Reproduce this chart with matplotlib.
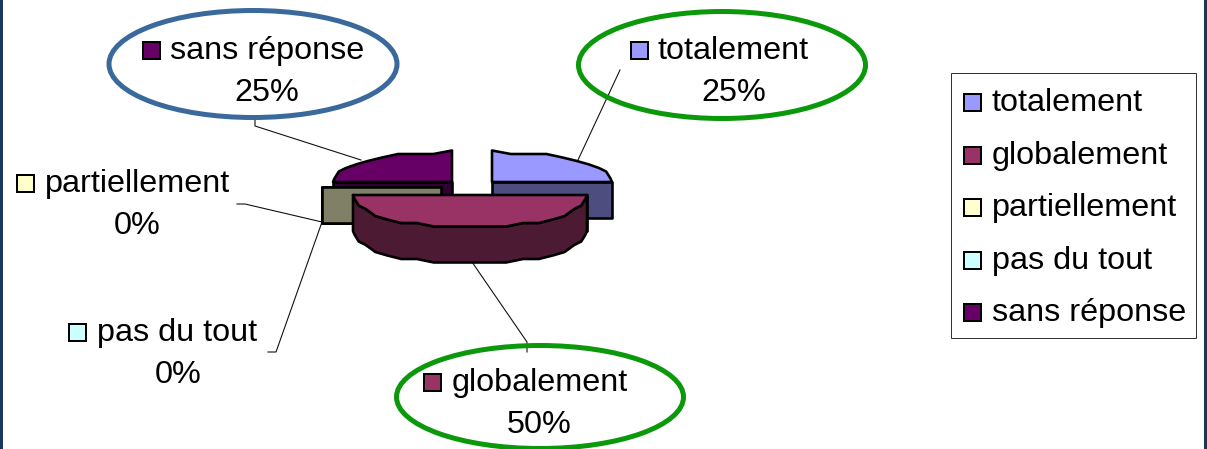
import numpy as np
import matplotlib
matplotlib.use("Agg")
import matplotlib.pyplot as plt
from matplotlib.patches import Polygon, Ellipse, Rectangle
from matplotlib.colors import to_rgb

categories = ["totalement", "globalement", "partiellement", "pas du tout", "sans réponse"]
values = [25, 50, 0, 0, 25]
colors = ["#9999FF", "#993366", "#FFFFCC", "#CCFFFF", "#660066"]

plt.rcParams["font.family"] = ["Liberation Sans", "DejaVu Sans"]
W, H = 1207, 449
fig = plt.figure(figsize=(W / 100, H / 100), dpi=100)
ax = fig.add_axes([0, 0, 1, 1])
ax.set_xlim(0, W)
ax.set_ylim(H, 0)
ax.axis("off")
PX = 0.72
FS = 23.3

# Exploded slice centres and radii, per category
geom = {
    "totalement": (492, 182, 120, 30),
    "globalement": (470, 195, 117, 33),
    "partiellement": (441, 187, 119, 30),
    "pas du tout": (441, 187, 119, 30),
    "sans réponse": (452, 182, 119, 30),
}
DEPTH = 36
total = sum(values)
fr = np.cumsum([0] + values) / total * 360
starts = dict(zip(categories, fr[:-1]))
ends = dict(zip(categories, fr[1:]))


def pt(cx, cy, rx, ry, deg, grid=0):
    t = np.radians(deg)
    x, y = cx + rx * np.sin(t), cy - ry * np.cos(t)
    if grid:
        # the source's coarse metafile outline: rim snapped to a rough grid
        y = cy + round((y - cy) / grid) * grid
    return (x, y)


def draw_slice(cat, col, z):
    cx, cy, rx, ry = geom[cat]
    a, b = starts[cat], ends[cat]
    side = tuple(c * 0.5 for c in to_rgb(col))
    kw = dict(edgecolor="black", linewidth=2.6 * PX, joinstyle="round", zorder=z)
    for ang in (a, b):
        if abs(ang % 180 - 90) < 1e-6:
            p = pt(cx, cy, rx, ry, ang)
            ax.add_patch(Polygon([(cx, cy), p, (p[0], p[1] + DEPTH), (cx, cy + DEPTH)],
                                 facecolor=side, **kw))
    if b == a:
        return
    n = max(2, int((b - a) / 9) + 1)
    angs = np.linspace(a, b, n)
    arc = [pt(cx, cy, rx, ry, d, grid=3.5) for d in angs]
    front = [d for d in angs if np.cos(np.radians(d)) <= 1e-9]
    if len(front) > 1:
        up = [pt(cx, cy, rx, ry, d, grid=3.5) for d in front]
        low = [(x, y + DEPTH) for x, y in up]
        ax.add_patch(Polygon(up + low[::-1], facecolor=side, **kw))
    ax.add_patch(Polygon([(cx, cy)] + arc, facecolor=col, **kw))


for cat, z in [("sans réponse", 3), ("pas du tout", 4), ("partiellement", 5),
               ("totalement", 6), ("globalement", 7)]:
    draw_slice(cat, colors[categories.index(cat)], z)

# Leader lines
leaders = [
    [(255, 120), (255, 126), (361, 160)],
    [(620, 70), (578, 160)],
    [(527, 352), (527, 342), (472, 262)],
    [(237, 204), (245, 204), (322, 222)],
    [(268, 352), (276, 352), (322, 222)],
]
for seg in leaders:
    xs, ys = zip(*seg)
    ax.plot(xs, ys, color="#111111", lw=1.1 * PX, zorder=2)

# Ellipses
for (cx, cy, w, h, c) in [(253, 64, 288, 107, "#3A6A9C"),
                          (722, 65, 287, 107, "#0B990B"),
                          (540, 397, 287, 103, "#0B990B")]:
    ax.add_patch(Ellipse((cx, cy), w, h, fill=False, edgecolor=c, linewidth=5 * PX, zorder=8))


def swatch(x, yc, col, size=17):
    ax.add_patch(Rectangle((x, yc - size / 2), size, size, facecolor=col,
                           edgecolor="black", linewidth=2 * PX, zorder=9))


# Data labels: marker x, row y, text x, percent centre x
labels = {
    "sans réponse": (143, 50, 170, 267),
    "totalement": (631, 50, 658, 734),
    "partiellement": (17, 183, 45, 137),
    "pas du tout": (69, 332, 97, 178),
    "globalement": (424, 382, 452, 539),
}
for cat, (mx, my, tx, pcx) in labels.items():
    swatch(mx, my, colors[categories.index(cat)])
    ax.text(tx, my + 1, cat, fontsize=FS, va="center", ha="left", color="black", zorder=9)
    ax.text(pcx, my + 43, f"{values[categories.index(cat)]}%", fontsize=FS,
            va="center", ha="center", color="black", zorder=9)

# Legend
ax.add_patch(Rectangle((951, 73), 245, 265, facecolor="white", edgecolor="#333333",
                       linewidth=1 * PX, zorder=1))
for cat, col, y in zip(categories, colors, [102, 155, 207, 260, 312]):
    swatch(964, y, col)
    ax.text(992, y + 1, cat, fontsize=FS, va="center", ha="left", color="black", zorder=9)

# Outer frame
for x in (1, 1205):
    ax.plot([x, x], [0, H], color="#17375E", lw=3 * PX, zorder=10)

fig.savefig("out.png", dpi=100)
